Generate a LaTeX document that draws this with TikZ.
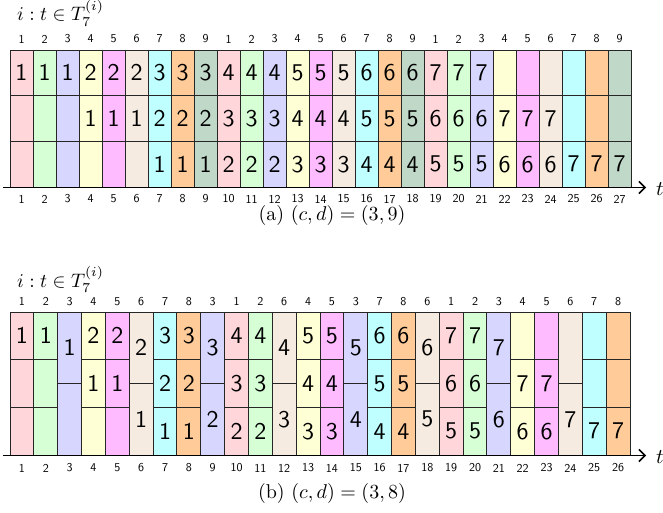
\documentclass[tikz,border=0pt]{standalone}
\usetikzlibrary{arrows.meta}
\definecolor{c1}{RGB}{255,214,218}
\definecolor{c2}{RGB}{214,255,214}
\definecolor{c3}{RGB}{214,214,255}
\definecolor{c4}{RGB}{255,255,214}
\definecolor{c5}{RGB}{255,187,255}
\definecolor{c6}{RGB}{245,235,225}
\definecolor{c7}{RGB}{191,255,255}
\definecolor{c8}{RGB}{255,204,153}
\definecolor{c9}{RGB}{192,216,200}
% 10pt design sizes, blown up
\newcommand{\cellnum}[1]{\scalebox{2.4}{\sffamily #1}}
\newcommand{\ticknum}[1]{\scalebox{1.2}{\sffamily #1}}
\newcommand{\bigtxt}[2]{\scalebox{#1}{#2}}

\begin{document}
\begin{tikzpicture}[
    x=1pt, y=-1pt,
    cell/.style={draw=black!85, line width=0.9pt},
    num/.style={inner sep=0pt},
    tick/.style={inner sep=0pt},
    axis/.style={line width=1.5pt, -{Straight Barb[length=6pt,width=12pt]}},
    head/.style={anchor=base west, inner sep=0pt},
    subcap/.style={anchor=base, inner sep=0pt},
    tlabel/.style={anchor=base west, inner sep=0pt},
  ]
    \useasboundingbox (0,0) rectangle (663,513);

    % (a): 27 slots, every one cut into three rows
    \node[head] (heada) at (17,21) {\bigtxt{1.95}{$i : t \in T_7^{(i)}$}};
    \foreach \col in {1,...,27}{
      \pgfmathtruncatemacro{\lab}{mod(\col-1,9)+1}
      \pgfmathsetmacro{\xl}{10+23*(\col-1)}
      \node[tick] (la-\col) at (\xl+11.5,39) {\ticknum{\lab}};
      \node[tick] (ba-\col) at (\xl+11.5,199) {\ticknum{\col}};
      \foreach \r in {0,1,2}{
        \pgfmathtruncatemacro{\k}{\col-3*\r}
        \pgfmathtruncatemacro{\v}{(\k+2)/3}
        \draw[cell, fill=c\lab] (\xl,50+45.67*\r) rectangle ++(23,45.67);
        \ifnum\k>0 \ifnum\k<22
          \node[num] (ca-\col-\r) at (\xl+11.5,72.8+45.67*\r) {\cellnum{\v}};
        \fi\fi
      }
    }
    \coordinate (a0) at (3,187.5);
    \coordinate (a1) at (646,187.5);
    \draw[axis] (a0) -- (a1);
    \node[tlabel] (ta) at (656,195.5) {\bigtxt{2.1}{$t$}};
    \node[subcap] (capa) at (332,220) {\bigtxt{2}{(a) $(c,d)=(3,9)$}};

    % (b): 26 slots, kind 3 = three rows, kind 2 = two halves
    \node[head] (headb) at (17,287) {\bigtxt{1.95}{$i : t \in T_7^{(i)}$}};
    \foreach \col/\lab/\kind/\a/\b/\c in {
        1/1/3/1/{}/{}, 2/2/3/1/{}/{}, 3/3/2/1/{}/{},
        4/4/3/2/1/{}, 5/5/3/2/1/{}, 6/6/2/2/1/{},
        7/7/3/3/2/1, 8/8/3/3/2/1, 9/3/2/3/2/{},
        10/1/3/4/3/2, 11/2/3/4/3/2, 12/6/2/4/3/{},
        13/4/3/5/4/3, 14/5/3/5/4/3, 15/3/2/5/4/{},
        16/7/3/6/5/4, 17/8/3/6/5/4, 18/6/2/6/5/{},
        19/1/3/7/6/5, 20/2/3/7/6/5, 21/3/2/7/6/{},
        22/4/3/{}/7/6, 23/5/3/{}/7/6, 24/6/2/{}/7/{},
        25/7/3/{}/{}/7, 26/8/3/{}/{}/7}{
      \pgfmathsetmacro{\xl}{10+23.846*(\col-1)}
      \pgfmathsetmacro{\xm}{\xl+11.923}
      \node[tick] (lb-\col) at (\xm,301.5) {\ticknum{\lab}};
      \node[tick] (bb-\col) at (\xm,468) {\ticknum{\col}};
      \ifnum\kind=3
        \draw[cell, fill=c\lab] (\xl,312) rectangle ++(23.846,47.67);
        \draw[cell, fill=c\lab] (\xl,359.67) rectangle ++(23.846,47.67);
        \draw[cell, fill=c\lab] (\xl,407.33) rectangle ++(23.846,47.67);
        \node[num] (cb-\col-0) at (\xm,335.8) {\cellnum{\a}};
        \node[num] (cb-\col-1) at (\xm,383.5) {\cellnum{\b}};
        \node[num] (cb-\col-2) at (\xm,431.2) {\cellnum{\c}};
      \else
        \draw[cell, fill=c\lab] (\xl,312) rectangle ++(23.846,71.5);
        \draw[cell, fill=c\lab] (\xl,383.5) rectangle ++(23.846,71.5);
        \node[num] (cb-\col-0) at (\xm,347.8) {\cellnum{\a}};
        \node[num] (cb-\col-1) at (\xm,419.3) {\cellnum{\b}};
      \fi
    }
    \coordinate (b0) at (3,455.5);
    \coordinate (b1) at (646,455.5);
    \draw[axis] (b0) -- (b1);
    \node[tlabel] (tb) at (656,463) {\bigtxt{2.1}{$t$}};
    \node[subcap] (capb) at (332,498) {\bigtxt{2}{(b) $(c,d)=(3,8)$}};
  \end{tikzpicture}
\end{document}
